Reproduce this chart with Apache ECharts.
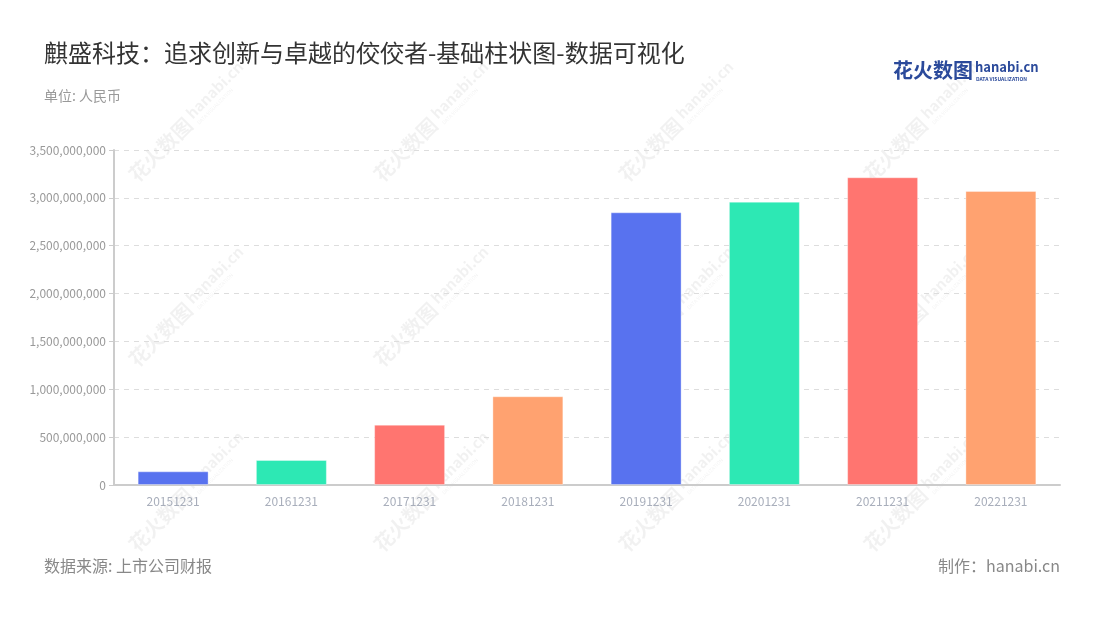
<!DOCTYPE html>
<html>
<head>
<meta charset="utf-8">
<title>麒盛科技-基础柱状图</title>
<script src="https://cdn.jsdelivr.net/npm/echarts@6/dist/echarts.min.js"></script>
<style>
  html, body { margin: 0; padding: 0; background: #fff; }
  #main { width: 1100px; height: 620px; }
</style>
</head>
<body>
<div id="main"></div>
<script>
// 数据
var years = ['20151231', '20161231', '20171231', '20181231', '20191231', '20201231', '20211231', '20221231'];
var values = [143000000, 261000000, 630000000, 927000000, 2849000000, 2960000000, 3215000000, 3072000000];
var barColors = ['#5872EF', '#2DE8B4', '#FF7570', '#FFA270'];
var yTicks = { min: 0, max: 3500000000, interval: 500000000 };

var FONT = '"Noto Sans CJK SC", "Noto Sans", sans-serif';

// 水印
var marks = [];
[183, 428, 673, 918].forEach(function (cx) {
  [127, 312, 497].forEach(function (cy) {
    marks.push({
      type: 'group',
      x: cx,
      y: cy,
      rotation: Math.PI / 4,
      silent: true,
      z: 100,
      children: [
        { type: 'text', x: -72, y: 0, style: { text: '花火数图', font: 'bold 20px ' + FONT, fill: 'rgba(0,0,0,0.055)', verticalAlign: 'middle' } },
        { type: 'text', x: 12, y: -4, style: { text: 'hanabi.cn', font: 'bold 15px ' + FONT, fill: 'rgba(0,0,0,0.055)', verticalAlign: 'middle' } },
        { type: 'text', x: 13, y: 8, style: { text: 'DATA VISUALIZATION', font: '5px ' + FONT, fill: 'rgba(0,0,0,0.055)', verticalAlign: 'middle' } }
      ]
    });
  });
});

var chart = echarts.init(document.getElementById('main'));
chart.setOption({
  backgroundColor: '#fff',
  animation: false,
  title: [{
    text: '麒盛科技：追求创新与卓越的佼佼者-基础柱状图-数据可视化',
    left: 39, top: 36,
    textStyle: { fontFamily: FONT, fontSize: 24, fontWeight: 'normal', color: '#333' }
  }, {
    text: '单位: 人民币',
    left: 39, top: 84,
    textStyle: { fontFamily: FONT, fontSize: 14, fontWeight: 'normal', color: '#999' }
  }, {
    text: '数据来源: 上市公司财报',
    left: 39, top: 553,
    textStyle: { fontFamily: FONT, fontSize: 16, fontWeight: 'normal', color: '#888' }
  }, {
    text: '制作：hanabi.cn',
    right: 35, top: 553,
    textStyle: { fontFamily: FONT, fontSize: 16, fontWeight: 'normal', color: '#888' }
  }],
  graphic: marks.concat([
    { type: 'text', left: 893, top: 60, style: { text: '花火数图', font: 'bold 20px ' + FONT, fill: '#2B4A9B' } },
    { type: 'text', left: 975, top: 61, style: { text: 'hanabi.cn', font: 'bold 13px ' + FONT, fill: '#2B4A9B' } },
    { type: 'text', left: 976, top: 77, style: { text: 'DATA VISUALIZATION', font: 'bold 5px ' + FONT, fill: '#2B4A9B' } }
  ]),
  grid: { left: 114, right: 40, top: 150, bottom: 135 },
  xAxis: {
    type: 'category',
    data: years,
    axisLine: { lineStyle: { color: '#ccc', width: 2 } },
    axisTick: { alignWithLabel: true, lineStyle: { color: '#bbb' } },
    axisLabel: { color: '#a8aebb', fontSize: 12, fontFamily: FONT, margin: 10 }
  },
  yAxis: {
    type: 'value',
    min: yTicks.min, max: yTicks.max, interval: yTicks.interval,
    axisLine: { show: true, lineStyle: { color: '#ccc', width: 2 } },
    axisTick: { show: true, lineStyle: { color: '#ccc' } },
    axisLabel: {
      color: '#999', fontSize: 12, fontFamily: FONT,
      formatter: function (v) { return v.toLocaleString('en-US'); }
    },
    splitLine: { lineStyle: { color: '#ddd', type: [5, 5] } }
  },
  series: [{
    type: 'bar',
    barWidth: '60%',
    data: values.map(function (v, i) {
      return {
        value: v,
        itemStyle: { color: barColors[i % barColors.length], borderColor: 'rgba(255,255,255,0.35)', borderWidth: 1 }
      };
    })
  }]
});
</script>
</body>
</html>
